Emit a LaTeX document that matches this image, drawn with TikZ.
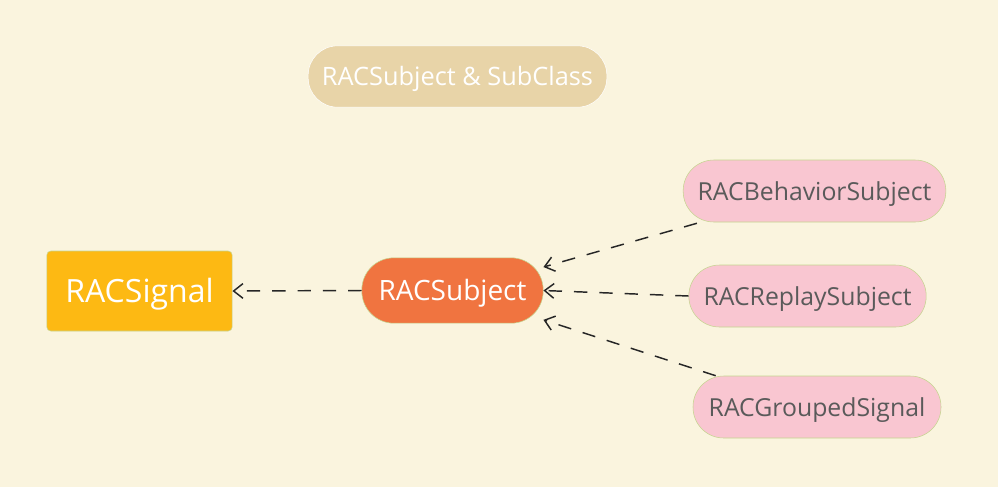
\documentclass[tikz,border=0pt]{standalone}
\usepackage{fontspec}
\setmainfont{Open Sans}
\usetikzlibrary{arrows.meta}
\definecolor{paper}{HTML}{FAF4DE}
\definecolor{titlefill}{HTML}{E8D4A8}
\definecolor{signalfill}{HTML}{FDB913}
\definecolor{subjectfill}{HTML}{F07440}
\definecolor{subfill}{HTML}{F9C6D1}
\definecolor{edgegreen}{HTML}{C5D58F}
\definecolor{subtext}{HTML}{5A5A5A}
\tikzset{
  titlebox/.style={draw=white, fill=titlefill, text=white, rounded corners=22pt,
    minimum width=224pt, minimum height=46pt, text height=18pt, text depth=4pt,
    font=\fontsize{19}{21}\selectfont},
  signalbox/.style={draw=edgegreen, fill=signalfill, text=white, rounded corners=3pt,
    minimum width=139pt, minimum height=60pt, text height=21pt, text depth=4.2pt,
    font=\fontsize{24}{27}\selectfont},
  subjectbox/.style={draw=edgegreen, fill=subjectfill, text=white, rounded corners=24pt,
    minimum width=136pt, minimum height=49pt, text height=19pt, text depth=4pt,
    font=\fontsize{21}{24}\selectfont},
  subbox/.style={draw=edgegreen, fill=subfill, text=subtext, rounded corners=23pt,
    minimum height=46.5pt, text height=18pt, text depth=3.4pt,
    font=\fontsize{18.6}{21}\selectfont},
  inherit/.style={draw=black!85, line width=1.1pt, dash pattern=on 10pt off 9pt,
    -{Straight Barb[length=7pt,width=11pt]}}
}
\begin{document}
\begin{tikzpicture}[x=0.75pt, y=-0.75pt]
  \fill[paper] (0,0) rectangle (998,487);
  \useasboundingbox (0,0) rectangle (998,487);
  \draw
    (457.5,76.5) node[titlebox] (title){RACSubject \& SubClass}
    (139.5,291) node[signalbox] (signal){RACSignal}
    (452.5,290.5) node[subjectbox] (subject){RACSubject}
    (814.5,191) node[subbox, minimum width=197pt] (behavior){RACBehaviorSubject}
    (807.5,296) node[subbox, minimum width=178pt] (replay){RACReplaySubject}
    (817,407) node[subbox, minimum width=186pt] (grouped){RACGroupedSignal};
  \begin{scope}[inherit]
    \draw (subject.west) to (signal.east);
    \draw (behavior.south west) ++(14,1) coordinate (b0) to ([yshift=17.6pt]subject.east);
    \draw (replay.west) to (subject.east);
    \draw (grouped.north west) ++(23,0) coordinate (g0) to ([yshift=-22pt]subject.east);
  \end{scope}
\end{tikzpicture}
\end{document}
